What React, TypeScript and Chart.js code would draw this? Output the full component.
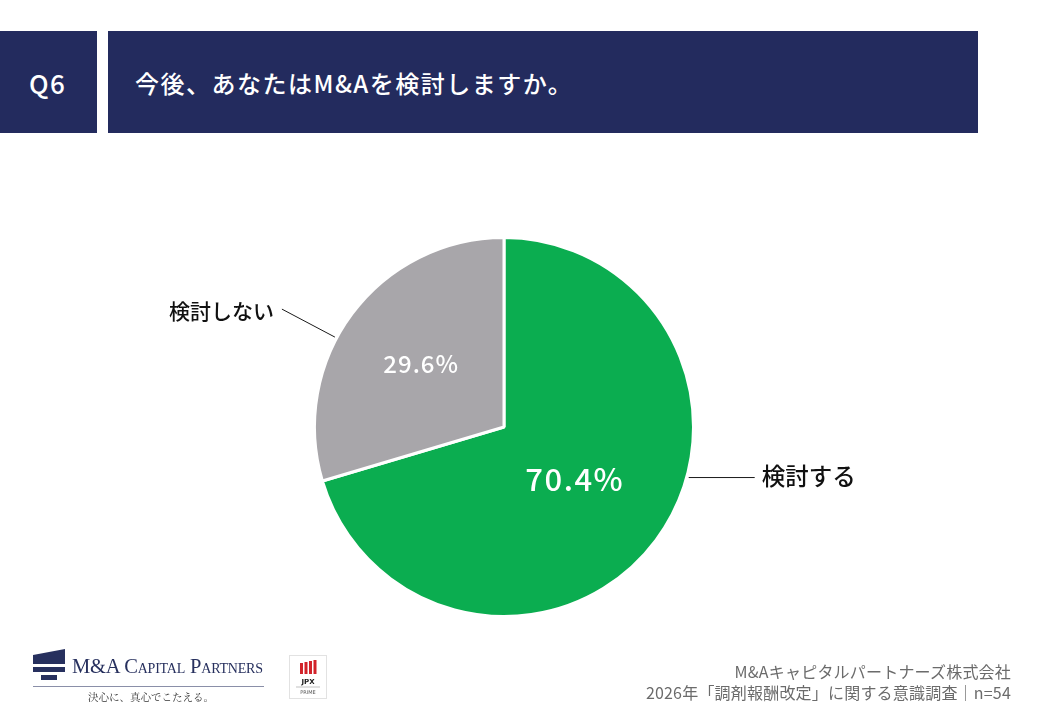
import React, { useEffect, useRef } from "react";
import { Chart, registerables } from "chart.js";

Chart.register(...registerables);

const categories = ["検討する", "検討しない"];
const values = [70.4, 29.6];
const sliceColors = ["#0bad50", "#a8a6aa"];
const questionId = "Q6";
const questionText = "今後、あなたはM&Aを検討しますか。";
const footerLines = ["M&Aキャピタルパートナーズ株式会社", "2026年「調剤報酬改定」に関する意識調査｜n=54"];

const JP = "'Noto Sans CJK JP', 'Noto Sans', sans-serif";

const labelPlugin = {
  id: "pieLabels",
  afterDatasetsDraw(chart: any) {
    const ctx = chart.ctx as CanvasRenderingContext2D;
    const meta = chart.getDatasetMeta(0);
    const pctR = [0.466, 0.545];
    const pctSize = [31, 24];
    const pctSpacing = ["1.5px", "1px"];
    ctx.save();
    meta.data.forEach((arc: any, i: number) => {
      const { x, y, startAngle, endAngle, outerRadius } = arc.getProps(["x", "y", "startAngle", "endAngle", "outerRadius"], true);
      const mid = (startAngle + endAngle) / 2;
      const r = outerRadius * pctR[i];
      ctx.fillStyle = "#ffffff";
      ctx.font = `500 ${pctSize[i]}px ${JP}`;
      (ctx as any).letterSpacing = pctSpacing[i];
      ctx.textAlign = "center";
      ctx.textBaseline = "middle";
      ctx.fillText(values[i].toFixed(1) + "%", x + Math.cos(mid) * r, y + Math.sin(mid) * r - 1);
    });
    (ctx as any).letterSpacing = "0px";
    const a0: any = meta.data[0];
    const cx = a0.x, cy = a0.y, R = a0.outerRadius;
    ctx.strokeStyle = "#1a1a1a";
    ctx.lineWidth = 1;
    ctx.fillStyle = "#111111";
    ctx.textBaseline = "middle";
    {
      const ang = (15.3 * Math.PI) / 180;
      const sx = cx + Math.cos(ang) * (R + 2);
      const sy = cy + Math.sin(ang) * (R + 2);
      ctx.beginPath();
      ctx.moveTo(sx, sy);
      ctx.lineTo(sx + 66, sy);
      ctx.stroke();
      ctx.font = `500 23.5px ${JP}`;
      ctx.textAlign = "left";
      ctx.fillText(categories[0], sx + 73, sy - 1);
    }
    {
      const ang = (-152 * Math.PI) / 180;
      const sx = cx + Math.cos(ang) * (R + 2);
      const sy = cy + Math.sin(ang) * (R + 2);
      ctx.beginPath();
      ctx.moveTo(sx, sy);
      ctx.lineTo(sx - 53, sy - 28);
      ctx.stroke();
      ctx.font = `500 21px ${JP}`;
      ctx.textAlign = "right";
      ctx.fillText(categories[1], sx - 61, sy - 26);
    }
    ctx.restore();
  },
};

function PieChart() {
  const ref = useRef<HTMLCanvasElement | null>(null);
  useEffect(() => {
    if (!ref.current) return;
    const chart = new Chart(ref.current, {
      type: "pie",
      data: {
        labels: categories,
        datasets: [
          {
            data: values,
            backgroundColor: sliceColors,
            borderColor: "#ffffff",
            borderWidth: 3,
          },
        ],
      },
      options: {
        responsive: false,
        animation: false,
        layout: { padding: { left: 313, right: 345, top: 236, bottom: 102 } },
        plugins: { legend: { display: false }, tooltip: { enabled: false } },
      },
      plugins: [labelPlugin],
    });
    return () => chart.destroy();
  }, []);
  return <canvas ref={ref} width={1040} height={720} style={{ position: "absolute", left: 0, top: 0 }} />;
}

function Logo() {
  const navy = "#27305e";
  return (
    <div style={{ position: "absolute", left: 33, top: 649, width: 232, height: 56 }}>
      <svg width={34} height={32} style={{ position: "absolute", left: 0, top: 0 }}>
        <polygon points="0,6 32,0 32,15 0,15" fill={navy} />
        <rect x={0} y={18} width={32} height={5} fill={navy} />
        <rect x={8} y={26} width={16} height={5} fill={navy} />
      </svg>
      <div
        style={{
          position: "absolute",
          left: 39,
          top: 5,
          fontFamily: "'Liberation Serif', 'DejaVu Serif', serif",
          fontSize: 20.5,
          color: navy,
          fontVariant: "small-caps",
          letterSpacing: -0.2,
          whiteSpace: "nowrap",
          lineHeight: "24px",
        }}
      >
        M&amp;A Capital Partners
      </div>
      <div style={{ position: "absolute", left: 0, top: 37, width: 231, height: 1, background: "#8a8fa8" }} />
      <div
        style={{
          position: "absolute",
          left: 55,
          top: 41,
          fontFamily: "'Noto Serif CJK JP', 'Noto Sans CJK JP', serif",
          fontSize: 10.5,
          color: "#333",
          whiteSpace: "nowrap",
          lineHeight: "14px",
        }}
      >
        決心に、真心でこたえる。
      </div>
    </div>
  );
}

function JpxLogo() {
  return (
    <div
      style={{
        position: "absolute",
        left: 289,
        top: 655,
        width: 38,
        height: 44,
        border: "1px solid #e2e2e2",
        boxSizing: "border-box",
        background: "#fff",
      }}
    >
      <svg width={36} height={42} style={{ position: "absolute", left: 0, top: 0 }}>
        {[0, 1, 2, 3].map((k) => (
          <rect key={k} x={10 + k * 4.5} y={4 + (3 - k) * 1} width={3} height={14 - (3 - k)} fill="#d2232a" />
        ))}
        <text x={18} y={28} textAnchor="middle" fontSize={7} fontWeight={700} fontFamily="'DejaVu Sans', sans-serif" fill="#222">
          JPX
        </text>
        <line x1={6} y1={31} x2={30} y2={31} stroke="#999" strokeWidth={0.6} />
        <text x={18} y={38} textAnchor="middle" fontSize={5} fontFamily="'DejaVu Sans', sans-serif" fill="#555">
          PRIME
        </text>
      </svg>
    </div>
  );
}

export default function App() {
  useEffect(() => {
    document.body.style.margin = "0";
  }, []);
  const navy = "#232b5e";
  return (
    <div style={{ position: "fixed", left: 0, top: 0, width: 1040, height: 720, background: "#ffffff", overflow: "hidden" }}>
      <div
        style={{
          position: "absolute",
          left: 0,
          top: 31,
          width: 97,
          height: 102,
          background: navy,
          display: "flex",
          alignItems: "center",
          paddingLeft: 29,
          boxSizing: "border-box",
          color: "#fff",
          fontFamily: JP,
          fontWeight: 500,
          fontSize: 26,
          letterSpacing: 1.5,
        }}
      >
        {questionId}
      </div>
      <div
        style={{
          position: "absolute",
          left: 108,
          top: 31,
          width: 870,
          height: 102,
          background: navy,
          display: "flex",
          alignItems: "center",
          paddingLeft: 27,
          boxSizing: "border-box",
          color: "#fff",
          fontFamily: JP,
          fontWeight: 500,
          fontSize: 24,
          letterSpacing: 1.5,
          whiteSpace: "nowrap",
        }}
      >
        {questionText}
      </div>
      <PieChart />
      <Logo />
      <JpxLogo />
      <div
        style={{
          position: "absolute",
          right: 29,
          top: 661,
          textAlign: "right",
          fontFamily: JP,
          fontSize: 16,
          lineHeight: "21px",
          color: "#6b6b6b",
          whiteSpace: "nowrap",
          letterSpacing: 0.2,
        }}
      >
        {footerLines.map((l, i) => (
          <div key={i}>{l}</div>
        ))}
      </div>
    </div>
  );
}
